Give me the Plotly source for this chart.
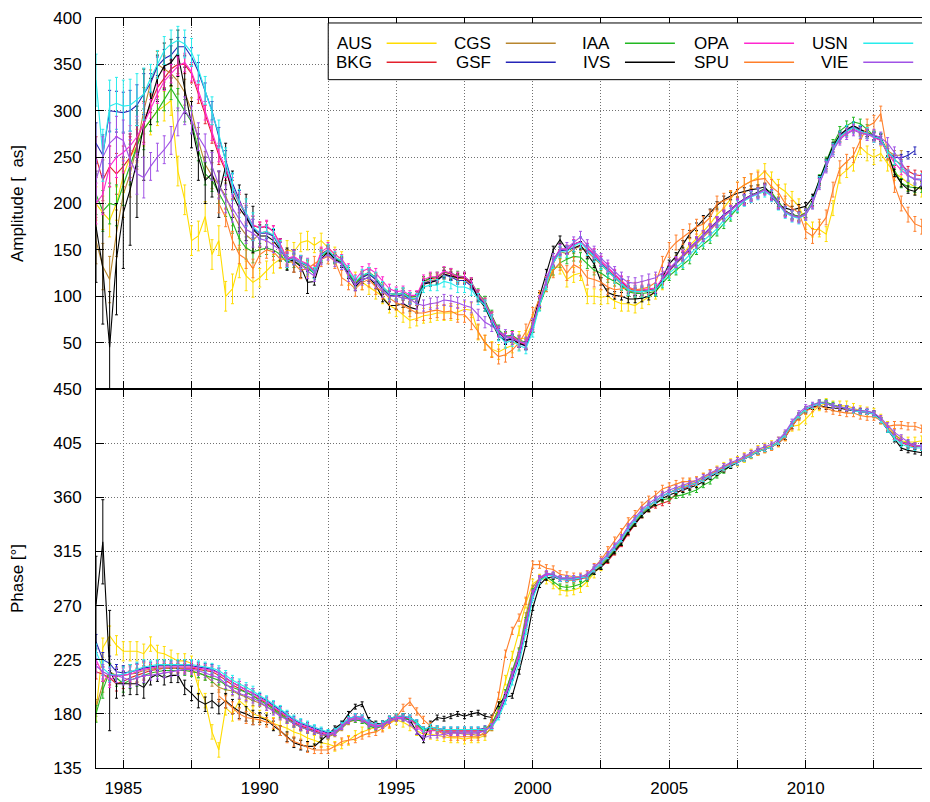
import plotly.graph_objects as go

# ---------------- data (quarterly epochs 1984.00 ... 2014.50) ----------------
YEARS = [1984 + 0.25 * i for i in range(123)]
SERIES = ["AUS", "BKG", "CGS", "GSF", "IAA", "IVS", "OPA", "SPU", "USN", "VIE"]
N = None

AUS_AMP = [200,190,182,200,230,250,262,280, 290,300,305,311,235,204,160,165,
           186,145,160,100,108,136,122,115, 120,128,135,140,150,148,158,160,
           155,160,152,145,140,120,118,115, 110,105,100,90,86,80,74,76,
           79,80,82,82,82,83,86,85, 61,50,43,40,44,47,54,55,
           72,95,115,130,132,118,123,125, 100,100,99,100,95,92,92,90,
           95,99,105,115,128,136,145,155, 162,170,178,188,195,205,215,220,
           224,228,235,226,218,213,205,197, 180,172,172,167,195,230,236,243,
           261,254,250,254,243,233,228,222, 218,215,212]
BKG_AMP = [250,225,240,232,240,250,268,288, 308,325,335,345,350,350,340,318,
           296,275,252,235,215,200,188,176, 174,175,170,156,140,141,137,134,
           126,146,150,142,138,126,114,122, 125,120,110,103,102,103,99,100,
           116,119,120,126,124,120,119,113, 101,92,78,62,55,57,50,48,
           67,94,116,138,151,150,156,159, 152,146,138,130,123,116,109,106,
           106,107,108,118,128,136,143,152, 159,166,173,181,188,193,200,205,
           209,212,216,210,201,192,188,186, 190,202,224,242,260,272,278,282,
           278,275,272,270,256,247,242,235, 231,230,230]
CGS_AMP = [160,132,118,168,210,232,262,300, 330,350,345,340,332,320,300,268,
           242,230,220,208,190,176,166,160, 168,170,165,152,140,142,136,132,
           124,144,150,140,137,126,114,121, 124,118,108,101,100,101,96,97,
           114,117,118,123,122,119,120,114, 101,93,78,63,56,57,52,48,
           66,92,114,136,148,146,151,154, 148,141,133,126,119,112,106,104,
           105,106,107,117,127,135,142,150, 157,164,171,179,186,192,199,204,
           208,211,215,209,200,191,187,185, 188,200,222,240,258,271,278,282,
           279,277,273,270,257,252,252,N, N,N,N]
GSF_AMP = [265,252,300,299,298,300,306,318, 330,348,356,360,369,369,358,342,
           320,300,272,247,222,204,186,173, 168,168,165,152,137,140,136,133,
           124,145,150,141,137,125,112,120, 124,118,108,101,100,102,97,98,
           114,116,117,123,121,117,117,111, 99,91,76,61,53,55,49,46,
           65,92,114,136,149,150,156,159, 151,144,136,128,121,114,107,105,
           105,106,107,118,128,136,143,152, 159,166,173,181,188,193,200,205,
           209,212,216,210,201,192,188,186, 189,202,224,242,260,273,279,283,
           279,276,272,268,255,250,249,252, 257,N,N]
IAA_AMP = [210,192,200,198,220,242,262,280, 290,300,312,324,312,300,288,258,
           232,225,212,198,180,162,152,148, 150,152,150,145,136,138,134,130,
           125,143,148,140,137,126,114,122, 126,120,110,103,102,104,99,100,
           116,120,121,126,125,122,121,115, 103,95,80,64,57,58,53,50,
           66,90,110,128,136,140,143,142, 135,128,125,120,116,111,105,103,
           103,104,105,114,122,128,134,140, 150,156,162,170,178,186,195,203,
           208,212,216,212,202,192,188,186, 190,203,226,245,264,278,284,288,
           286,280,273,270,252,236,222,218, 217,217,215]
IVS_AMP = [175,130,45,140,190,215,245,285, 310,335,348,352,362,322,285,250,
           225,232,210,240,210,195,185,172, 165,165,160,150,140,138,132,115,
           116,140,148,140,135,123,110,118, 120,112,98,90,90,92,88,86,
           113,115,117,124,122,120,121,114, 98,88,72,57,52,54,49,47,
           70,100,125,150,161,150,152,155, 145,135,116,104,101,100,97,97,
           98,100,105,120,135,143,156,167, 175,183,190,198,204,208,211,213,
           215,216,218,208,198,195,193,195, 197,206,226,244,262,274,280,284,
           280,276,273,271,255,233,222,215, 213,220,222]
OPA_AMP = [200,210,240,250,255,262,272,286, 302,318,332,340,348,352,342,322,
           300,278,255,238,218,202,190,177, 174,176,170,156,141,143,138,135,
           128,148,153,145,140,130,118,127, 130,125,116,108,105,106,101,101,
           118,121,121,127,125,121,121,115, 102,93,78,62,55,57,51,48,
           67,94,116,138,151,150,156,159, 152,146,138,131,124,117,110,107,
           107,108,109,119,129,137,144,152, 159,165,172,180,187,192,199,204,
           208,211,215,209,200,191,187,185, 189,201,222,240,258,270,276,280,
           277,275,271,268,254,244,236,230, 227,226,226]
SPU_AMP = [N,N,N,N,N,N,N,N, N,N,N,N,N,N,N,N,
           N,N,200,185,160,145,140,130, 145,150,148,140,140,135,128,130,
           135,140,143,138,120,115,108,115, 118,110,105,98,93,90,86,82,
           82,84,85,83,84,80,80,72, 62,50,42,35,37,42,50,62,
           80,98,113,128,136,125,134,130, 120,118,115,110,107,108,109,107,
           108,110,115,135,150,158,164,170, 175,178,185,200,203,206,215,220,
           224,226,227,218,212,200,195,190, 170,165,175,185,215,238,245,252,
           268,283,287,297,255,220,200,188, 178,175,170]
USN_AMP = [333,252,305,308,305,306,312,318, 335,350,365,372,376,372,363,345,
           322,300,275,245,218,200,190,175, 168,170,166,153,138,141,137,133,
           125,144,150,142,138,127,116,123, 125,120,110,103,102,103,98,97,
           110,112,112,116,114,110,110,107, 97,90,74,58,50,52,47,44,
           62,90,113,136,148,148,154,158, 150,143,135,127,120,113,107,105,
           105,106,107,116,125,131,137,145, 153,160,166,173,182,189,197,203,
           207,210,213,208,199,190,186,184, 188,201,223,241,259,272,278,282,
           278,276,272,270,256,248,240,230, 226,226,225]
VIE_AMP = [225,250,265,272,268,247,232,228, 240,250,258,268,288,300,290,272,
           260,240,220,205,195,183,172,168, 162,160,155,150,140,142,135,127,
           122,140,145,138,135,122,112,118, 120,115,105,100,100,98,97,92,
           90,92,93,96,95,93,90,88, 80,72,68,62,58,54,51,50,
           70,95,118,140,150,152,158,164, 155,148,140,133,126,120,115,114,
           116,118,120,125,130,137,144,152, 158,165,172,180,187,192,199,204,
           208,211,215,209,200,191,187,185, 188,200,221,239,257,269,275,279,
           276,274,274,271,265,255,245,230, 226,225,225]

AUS_PHASE = [182,235,245,237,232,232,232,230, 238,231,230,227,224,224,222,202,
             191,165,150,185,180,191,186,180, 178,176,172,170,168,165,163,160,
             158,156,155,153,155,158,162,165, 167,169,170,172,175,173,170,166,
             163,163,162,161,160,160,159,160, 160,162,170,186,208,228,249,272,
             288,292,292,288,283,282,283,285, 290,297,303,310,317,324,333,340,
             347,352,357,361,364,367,369,371, 373,376,379,382,385,388,390,393,
             396,399,401,403,406,411,419,420, 425,431,436,438,436,436,436,434,
             432,431,430,425,419,413,407,406, 406,407,408]
BKG_PHASE = [215,213,210,205,207,210,212,214, 216,217,218,218,218,218,218,217,
             216,215,212,208,204,201,198,195, 192,189,185,181,177,173,170,168,
             166,164,162,164,170,175,177,176, 172,170,171,175,177,177,176,172,
             167,168,167,166,166,166,166,166, 166,167,170,180,196,213,229,256,
             281,292,296,295,292,292,292,293, 293,298,302,307,314,321,330,338,
             345,350,353,355,357,363,367,369, 372,375,378,381,384,387,389,392,
             395,398,400,402,406,412,421,428, 433,436,438,438,436,435,434,432,
             431,431,429,424,417,410,406,403, 402,402,402]
CGS_PHASE = [185,205,215,212,212,213,214,216, 217,218,218,218,218,217,216,214,
             212,207,202,200,199,196,194,191, 189,186,183,179,175,172,169,167,
             165,163,161,163,168,173,175,174, 171,169,170,174,176,177,176,172,
             166,167,166,165,165,164,163,163, 162,163,168,182,198,216,233,262,
             285,293,296,295,292,291,291,292, 294,300,305,311,318,325,334,341,
             348,353,357,361,364,366,368,370, 372,375,378,381,384,387,389,392,
             395,398,400,402,406,412,421,428, 433,436,438,438,436,435,434,432,
             431,431,429,424,417,412,408,N, N,N,N]
GSF_PHASE = [240,225,222,215,214,215,216,218, 219,220,220,220,220,220,220,219,
             218,217,214,210,206,203,200,197, 194,191,187,183,179,175,172,170,
             168,166,164,166,171,176,178,177, 173,171,172,176,178,178,177,173,
             167,169,168,167,167,167,167,167, 167,168,170,179,193,210,226,252,
             278,291,296,295,292,292,292,293, 294,300,305,311,318,325,334,341,
             348,353,357,361,364,366,368,370, 372,375,378,381,384,387,389,392,
             395,398,400,402,406,412,421,428, 433,436,438,438,436,435,434,432,
             431,431,429,424,417,410,406,404, 403,N,N]
IAA_PHASE = [180,200,215,210,205,208,210,212, 214,215,216,216,216,216,215,214,
             212,210,208,204,202,200,198,195, 191,188,184,180,176,172,169,167,
             165,163,162,164,169,174,175,174, 170,168,170,174,176,176,175,171,
             166,167,166,165,165,165,165,165, 165,167,172,183,198,215,232,258,
             282,292,294,290,286,285,286,288, 292,298,303,309,316,323,332,339,
             346,351,355,358,359,361,362,364, 366,370,373,378,382,386,389,392,
             395,398,400,402,406,412,421,428, 433,436,439,439,437,435,434,432,
             431,431,429,424,417,410,406,405, 403,402,402]
IVS_PHASE = [271,323,216,205,205,205,205,202, 210,213,210,212,212,202,197,191,
             188,191,186,191,186,182,180,177, 177,175,170,166,161,156,154,153,
             153,158,163,168,172,180,186,188, 175,172,172,176,177,178,175,165,
             158,172,177,176,178,180,178,180, 181,178,177,188,194,195,215,238,
             268,287,293,294,292,292,292,293, 294,298,302,308,315,322,331,338,
             345,350,355,359,362,364,366,368, 370,373,377,380,383,386,389,392,
             395,398,400,402,405,410,419,427, 432,435,436,435,434,434,433,432,
             432,431,430,424,416,408,401,399, 398,397,N]
OPA_PHASE = [225,213,208,212,212,213,215,217, 218,219,219,219,219,219,219,218,
             217,216,214,210,206,203,200,197, 193,190,186,182,178,174,171,169,
             167,165,163,165,170,175,177,176, 172,170,171,175,177,177,176,170,
             164,166,166,165,165,165,165,165, 165,166,170,180,195,212,228,254,
             280,292,296,295,292,292,292,293, 294,300,305,311,318,325,334,341,
             348,353,357,361,364,366,368,370, 372,375,378,381,384,387,389,392,
             395,398,400,402,406,412,421,428, 433,436,438,438,436,435,434,432,
             431,431,429,424,417,410,406,404, 403,403,403]
SPU_PHASE = [N,N,N,N,N,N,N,N, N,N,N,N,N,N,N,N,
             N,N,195,190,185,180,177,176, 175,173,172,166,160,157,155,152,
             150,150,150,153,157,158,159,162, 164,165,168,172,177,185,190,182,
             175,170,166,163,161,161,161,161, 161,165,175,195,230,249,260,274,
             304,304,301,300,296,295,294,294, 296,302,308,316,324,331,340,346,
             353,358,362,367,369,371,373,373, 374,377,380,382,385,388,390,393,
             396,398,400,402,405,410,419,427, 432,434,436,434,432,431,430,430,
             428,427,427,424,419,420,420,419, 419,417,417]
USN_PHASE = [232,218,213,212,213,215,217,219, 220,221,221,221,221,221,221,220,
             219,218,216,212,208,205,202,199, 195,192,188,184,180,176,173,171,
             169,167,165,166,171,176,178,177, 173,171,172,176,178,178,177,173,
             167,169,168,167,167,167,167,167, 167,167,169,177,190,206,222,248,
             276,290,295,295,292,292,292,293, 294,300,305,311,318,325,334,341,
             348,353,357,361,364,366,368,370, 372,375,378,381,384,387,389,392,
             395,398,400,402,406,412,421,428, 433,436,438,438,436,435,434,432,
             431,431,429,424,416,409,404,402, 401,401,401]
VIE_PHASE = [220,215,212,212,210,208,210,212, 212,213,214,215,216,217,217,216,
             214,212,210,205,200,197,195,193, 190,186,182,178,175,172,169,167,
             165,163,162,164,169,174,176,175, 171,169,170,174,176,176,172,165,
             160,162,162,163,164,164,164,164, 164,166,170,181,196,213,230,256,
             281,293,297,296,293,293,293,294, 296,302,307,313,320,327,336,343,
             350,355,359,363,366,368,370,372, 374,377,380,383,386,389,391,394,
             397,400,402,404,408,414,423,430, 435,437,439,438,436,435,434,433,
             432,432,430,426,420,414,410,406, 403,402,402]

# error bar half-lengths, estimated per era (1984-85 / 1986-89 / 1990-91 / 1992-2014.5)
AUS_AMP_ERR = [18]*8 + [16]*16 + [10]*8 + [8]*91
BKG_AMP_ERR = [22]*8 + [10]*16 + [6]*8 + [5]*91
CGS_AMP_ERR = [25]*8 + [14]*16 + [7]*8 + [5]*91
GSF_AMP_ERR = [22]*8 + [10]*16 + [6]*8 + [4]*91
IAA_AMP_ERR = [22]*8 + [12]*16 + [7]*8 + [5]*91
IVS_AMP_ERR = [60]*8 + [25]*16 + [12]*8 + [4]*91
OPA_AMP_ERR = [22]*8 + [10]*16 + [6]*8 + [5]*91
SPU_AMP_ERR = [10]*8 + [10]*16 + [9]*8 + [8]*91
USN_AMP_ERR = [28]*8 + [15]*16 + [7]*8 + [6]*91
VIE_AMP_ERR = [22]*8 + [15]*16 + [8]*8 + [6]*91

AUS_PHASE_ERR = [8]*8 + [6]*16 + [5]*8 + [4]*91
BKG_PHASE_ERR = [6]*8 + [4]*16 + [3]*8 + [2]*91
CGS_PHASE_ERR = [7]*8 + [4]*16 + [3]*8 + [2]*91
GSF_PHASE_ERR = [6]*8 + [4]*16 + [3]*8 + [2]*91
IAA_PHASE_ERR = [7]*8 + [4]*16 + [3]*8 + [2]*91
IVS_PHASE_ERR = [40,35,50,12,10,9,9,9] + [6]*16 + [4]*8 + [2]*91
OPA_PHASE_ERR = [6]*8 + [4]*16 + [3]*8 + [2]*91
SPU_PHASE_ERR = [5]*8 + [5]*16 + [4]*8 + [3]*91
USN_PHASE_ERR = [6]*8 + [4]*16 + [3]*8 + [2]*91
VIE_PHASE_ERR = [6]*8 + [4]*16 + [3]*8 + [2]*91

AMP_TICKS = [50, 100, 150, 200, 250, 300, 350, 400]
PHASE_TICKS = [135, 180, 225, 270, 315, 360, 405, 450]
YEAR_TICKS = [1985, 1990, 1995, 2000, 2005, 2010]

AMP = {"AUS": AUS_AMP, "BKG": BKG_AMP, "CGS": CGS_AMP, "GSF": GSF_AMP, "IAA": IAA_AMP,
       "IVS": IVS_AMP, "OPA": OPA_AMP, "SPU": SPU_AMP, "USN": USN_AMP, "VIE": VIE_AMP}
AMP_ERR = {"AUS": AUS_AMP_ERR, "BKG": BKG_AMP_ERR, "CGS": CGS_AMP_ERR, "GSF": GSF_AMP_ERR,
           "IAA": IAA_AMP_ERR, "IVS": IVS_AMP_ERR, "OPA": OPA_AMP_ERR, "SPU": SPU_AMP_ERR,
           "USN": USN_AMP_ERR, "VIE": VIE_AMP_ERR}
PHASE = {"AUS": AUS_PHASE, "BKG": BKG_PHASE, "CGS": CGS_PHASE, "GSF": GSF_PHASE, "IAA": IAA_PHASE,
         "IVS": IVS_PHASE, "OPA": OPA_PHASE, "SPU": SPU_PHASE, "USN": USN_PHASE, "VIE": VIE_PHASE}
PHASE_ERR = {"AUS": AUS_PHASE_ERR, "BKG": BKG_PHASE_ERR, "CGS": CGS_PHASE_ERR, "GSF": GSF_PHASE_ERR,
             "IAA": IAA_PHASE_ERR, "IVS": IVS_PHASE_ERR, "OPA": OPA_PHASE_ERR, "SPU": SPU_PHASE_ERR,
             "USN": USN_PHASE_ERR, "VIE": VIE_PHASE_ERR}

for s in SERIES:
    for arr in (AMP[s], AMP_ERR[s], PHASE[s], PHASE_ERR[s]):
        assert len(arr) == len(YEARS), (s, len(arr))

# ---------------- style ----------------
COLORS = {"AUS": "#ffdc00", "BKG": "#e4202c", "CGS": "#b8862e", "GSF": "#2525b8",
          "IAA": "#22b822", "IVS": "#000000", "OPA": "#ff28cf", "SPU": "#ff7f2a",
          "USN": "#28ecec", "VIE": "#a052e6"}
FONT = "Liberation Sans, Arial, Helvetica, sans-serif"

fig = go.Figure()
for s in SERIES:
    c = COLORS[s]
    fig.add_trace(go.Scatter(
        x=YEARS, y=AMP[s], mode="lines", name=s, xaxis="x2", yaxis="y2",
        line=dict(color=c, width=1.1), showlegend=False,
        error_y=dict(type="data", array=AMP_ERR[s], color=c, thickness=1, width=1.5)))
    fig.add_trace(go.Scatter(
        x=YEARS, y=PHASE[s], mode="lines", name=s, xaxis="x", yaxis="y",
        line=dict(color=c, width=1.1), showlegend=False,
        error_y=dict(type="data", array=PHASE_ERR[s], color=c, thickness=1, width=1.5)))

# The page body has an 8 px margin, so the figure is sized to end at the window edge.
OFF = 8
W, H = 930 - OFF, 802 - OFF
L, R, T, B = 96 - OFF, 1, 14 - OFF, 34
PW, PH = W - L - R, H - T - B
SPLIT = (768 - 387) / PH

def px(xp):
    return (xp - OFF - L) / PW

def py(yp):
    return (OFF + H - B - yp) / PH

GRID = dict(showgrid=True, gridcolor="#707070", griddash="1px,2px", gridwidth=1)
AX = dict(showline=True, linecolor="black", linewidth=1, mirror="allticks",
          ticks="inside", ticklen=8, tickcolor="black", zeroline=False,
          tickfont=dict(family=FONT, size=17, color="black"))
XMINOR = dict(dtick=2.5, tick0=1985, ticks="inside", ticklen=8, tickcolor="black",
              showgrid=True, gridcolor="#707070", griddash="1px,2px")

fig.update_layout(
    width=W, height=H, margin=dict(l=L, r=R, t=T, b=B),
    paper_bgcolor="white", plot_bgcolor="white", showlegend=False,
    font=dict(family=FONT, size=17, color="black"),
    xaxis=dict(domain=[0, 1], range=[1984.0, 2014.48], anchor="y",
               tickvals=YEAR_TICKS, minor=XMINOR, ticklabelstandoff=5,
               **GRID, **AX),
    xaxis2=dict(domain=[0, 1], range=[1984.0, 2014.48], anchor="y2", matches="x",
                tickvals=YEAR_TICKS, minor=XMINOR, showticklabels=False,
                **GRID, **AX),
    yaxis=dict(domain=[0, SPLIT], range=[135, 450], anchor="x", tickvals=PHASE_TICKS,
               ticklabelstandoff=10, title=dict(text="Phase [°]", standoff=26,
                                                font=dict(family=FONT, size=17)),
               **GRID, **AX),
    yaxis2=dict(domain=[SPLIT, 1], range=[0, 400], anchor="x2", tickvals=AMP_TICKS,
                ticklabelstandoff=10, title=dict(text="Amplitude [\u00a0 as]", standoff=26,
                                                 font=dict(family=FONT, size=17)),
                **GRID, **AX),
)

# ---------------- legend (gnuplot style: label, then line sample) ----------------
shapes = [dict(type="rect", xref="paper", yref="paper", x0=px(328.5), x1=px(925),
               y0=py(76), y1=py(19), line=dict(color="black", width=1),
               fillcolor="white", layer="above")]
annotations = []
row_y = [39.5, 58.5]
for k, s in enumerate(SERIES):
    col, row = k // 2, k % 2
    tx = 374.5 + 119.2 * col
    lx0 = 387 + 119.3 * col
    annotations.append(dict(xref="paper", yref="paper", x=px(tx), y=py(row_y[row]),
                            text=s, showarrow=False, xanchor="right", yanchor="middle",
                            font=dict(family=FONT, size=17, color="black")))
    shapes.append(dict(type="line", xref="paper", yref="paper", x0=px(lx0), x1=px(lx0 + 50),
                       y0=py(row_y[row]), y1=py(row_y[row]),
                       line=dict(color=COLORS[s], width=1.5), layer="above"))
fig.update_layout(shapes=shapes, annotations=annotations)

fig.write_html("out.html")
